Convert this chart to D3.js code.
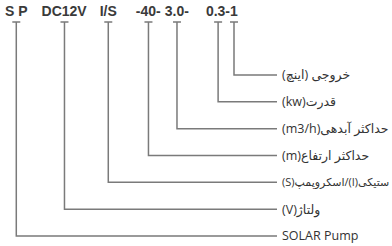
<!DOCTYPE html>
<html>
<head>
<meta charset="utf-8">
<script src="https://cdn.jsdelivr.net/npm/d3@7"></script>
<style>
body { margin: 0; background: #fff; }
svg { display: block; }
</style>
</head>
<body>
<script>
// model code tokens, read left to right (the last two share "0.3-1")
var codeParts = ["S P", "DC12V", "I/S", "-40-", "3.0-", "0.3-", "1"];
// gap (px) before each token
var codeGaps = [5, 14, 13, 19, 4, 17, 0];
// meaning of each token, same order as codeParts
var meanings = [
	"SOLAR Pump",
	"ولتاژ(V)",
	"ستیکی(I)/اسکروپمپ(S)",
	"حداکثر ارتفاع(m)",
	"حداکثر آبدهی(m3/h)",
	"قدرت(kw)",
	"خروجی (اینچ)"
];

var width = 392, height = 246;
var lineColor = "#7a7a7a";

var svg = d3.select("body").append("svg")
	.attr("width", width)
	.attr("height", height);

// rows: deepest bracket for the first token, shallowest for the last
var y = d3.scalePoint()
	.domain(meanings.slice().reverse())
	.range([75, 236]);

var lineEnd = 277, textX = 282, capY = 22;

// code string on top
var code = svg.append("text")
	.attr("x", 0)
	.attr("y", 16)
	.style("font-family", "Liberation Sans, Arial, sans-serif")
	.style("font-weight", "bold")
	.style("font-size", "14px")
	.style("fill", "#3a3a3a");

var spans = code.selectAll("tspan")
	.data(codeParts)
	.enter()
	.append("tspan")
	.attr("dx", function(d, i) { return codeGaps[i]; })
	.text(function(d) { return d; });

// stem x = centre of each token
var stemX = [];
spans.each(function() {
	var b = this.getBBox();
	stemX.push(b.x + b.width / 2);
});

var items = codeParts.map(function(d, i) {
	return { code: d, meaning: meanings[i], x: stemX[i] };
});

var g = svg.append("g");

// bracket: T cap, vertical stem, horizontal run to the label
g.selectAll("path.bracket")
	.data(items)
	.enter()
	.append("path")
	.attr("class", "bracket")
	.attr("d", function(d) {
		var yy = y(d.meaning);
		return "M" + (d.x - 4) + "," + capY + "H" + (d.x + 4) +
			"M" + d.x + "," + capY + "V" + yy + "H" + lineEnd;
	})
	.style("fill", "none")
	.style("stroke", lineColor)
	.style("stroke-width", 1.5);

var isFa = function(s) { return /[\u0600-\u06FF]/.test(s); };

g.selectAll("text.meaning")
	.data(items)
	.enter()
	.append("text")
	.attr("class", "meaning")
	.attr("x", textX)
	.attr("y", function(d) { return y(d.meaning); })
	.attr("dy", "0.35em")
	.attr("direction", function(d) { return isFa(d.meaning) ? "rtl" : "ltr"; })
	.attr("text-anchor", function(d) { return isFa(d.meaning) ? "end" : "start"; })
	.style("font-family", "Open Sans, DejaVu Sans, sans-serif")
	.style("font-size", "12.5px")
	.style("fill", "#333")
	.text(function(d) { return d.meaning; })
	.each(function() {
		// shrink a label that would run past the right edge
		var fs = 12.5;
		var b = this.getBBox();
		while (b.x + b.width > width - 1 && fs > 8) {
			fs -= 0.25;
			this.style.fontSize = fs + "px";
			b = this.getBBox();
		}
	});
</script>
</body>
</html>
